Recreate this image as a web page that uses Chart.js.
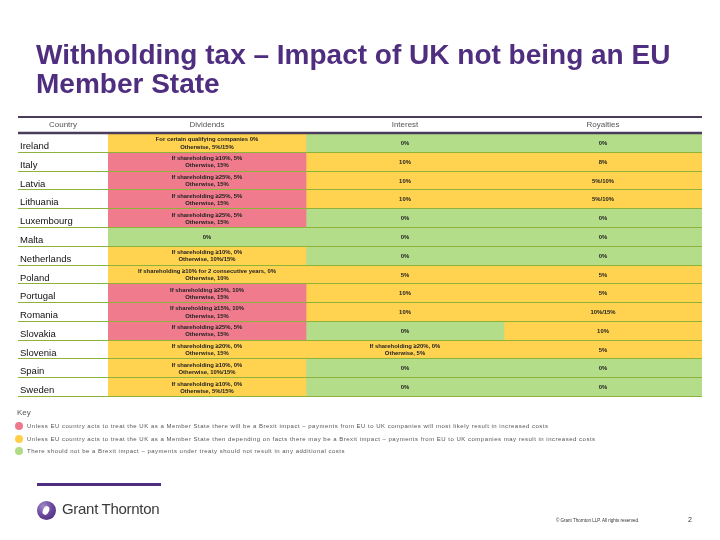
<!DOCTYPE html>
<html>
<head>
<meta charset="utf-8">
<script src="https://cdn.jsdelivr.net/npm/chart.js@4"></script>
<style>
    body { margin: 0; background: #fff; font-family: 'Liberation Sans', Arial, sans-serif; }
    #page { position: relative; width: 720px; height: 540px; overflow: hidden; }
    #chart { position: absolute; left: 0; top: 0; }
    .title { position: absolute; left: 36px; top: 40px; font-size: 28px; font-weight: bold; line-height: 29px; color: #4f2d7f; }
    .key-title { position: absolute; left: 17px; top: 408px; font-size: 8px; color: #555; }
    .key-row { position: absolute; left: 15px; height: 10px; display: flex; align-items: center; }
    .key-dot { width: 8px; height: 8px; border-radius: 50%; margin-right: 4px; }
    .key-text { font-size: 6px; color: #555; letter-spacing: 0.5px; white-space: nowrap; }
    .rule { position: absolute; left: 37px; top: 483px; width: 124px; height: 3px; background: #4f2d7f; }
    .logo-mark { position: absolute; left: 37px; top: 501px; width: 19px; height: 19px; border-radius: 50%;
        background: radial-gradient(circle at 35% 30%, #a58cc9 0%, #6c4a9e 45%, #3f2370 100%); }
    .logo-mark::after { content: ''; position: absolute; left: 6px; top: 5px; width: 6px; height: 9px; border-radius: 50%;
        background: #fff; transform: rotate(25deg); }
    .logo-text { position: absolute; left: 62px; top: 500px; font-size: 15px; color: #3a3a3a; letter-spacing: -0.3px; }
    .copy { position: absolute; left: 556px; top: 518px; font-size: 4.5px; color: #333; }
    .page-no { position: absolute; left: 688px; top: 516px; font-size: 7px; color: #333; }
</style>
</head>
<body>
<div id="page">
    <canvas id="chart" width="720" height="540"></canvas>
    <div class="title">Withholding tax – Impact of UK not being an EU<br>Member State</div>
    <div class="key-title">Key</div>
    <div class="key-row" style="top: 421px;"><div class="key-dot" style="background:#ec7a8c"></div><div class="key-text">Unless EU country acts to treat the UK as a Member State there will be a Brexit impact – payments from EU to UK companies will most likely result in increased costs</div></div>
    <div class="key-row" style="top: 434px;"><div class="key-dot" style="background:#ffcf4a"></div><div class="key-text">Unless EU country acts to treat the UK as a Member State then depending on facts there may be a Brexit impact – payments from EU to UK companies may result in increased costs</div></div>
    <div class="key-row" style="top: 446px;"><div class="key-dot" style="background:#afdb86"></div><div class="key-text">There should not be a Brexit impact – payments under treaty should not result in any additional costs</div></div>
    <div class="rule"></div>
    <div class="logo-mark"></div>
    <div class="logo-text">Grant Thornton</div>
    <div class="copy">© Grant Thornton LLP. All rights reserved.</div>
    <div class="page-no">2</div>
</div>
<script>
// Table data
const countries = ['Ireland', 'Italy', 'Latvia', 'Lithuania', 'Luxembourg', 'Malta', 'Netherlands',
    'Poland', 'Portugal', 'Romania', 'Slovakia', 'Slovenia', 'Spain', 'Sweden'];

const columns = ['Dividends', 'Interest', 'Royalties'];

const dividends = [
    'For certain qualifying companies 0%\nOtherwise, 5%/15%',
    'If shareholding ≥10%, 5%\nOtherwise, 15%',
    'If shareholding ≥25%, 5%\nOtherwise, 15%',
    'If shareholding ≥25%, 5%\nOtherwise, 15%',
    'If shareholding ≥25%, 5%\nOtherwise, 15%',
    '0%',
    'If shareholding ≥10%, 0%\nOtherwise, 10%/15%',
    'If shareholding ≥10% for 2 consecutive years, 0%\nOtherwise, 10%',
    'If shareholding ≥25%, 10%\nOtherwise, 15%',
    'If shareholding ≥15%, 10%\nOtherwise, 15%',
    'If shareholding ≥25%, 5%\nOtherwise, 15%',
    'If shareholding ≥20%, 0%\nOtherwise, 15%',
    'If shareholding ≥10%, 0%\nOtherwise, 10%/15%',
    'If shareholding ≥10%, 0%\nOtherwise, 5%/15%',
];

const interest = ['0%', '10%', '10%', '10%', '0%', '0%', '0%', '5%', '10%', '10%', '0%',
    'If shareholding ≥20%, 0%\nOtherwise, 5%', '0%', '0%'];

const royalties = ['0%', '8%', '5%/10%', '5%/10%', '0%', '0%', '0%', '5%', '5%', '10%/15%', '10%',
    '5%', '0%', '0%'];

// Brexit impact per cell: red = likely cost, amber = depends on facts, green = none
const dividendImpact = ['amber', 'red', 'red', 'red', 'red', 'green', 'amber',
    'amber', 'red', 'red', 'red', 'amber', 'amber', 'amber'];
const interestImpact = ['green', 'amber', 'amber', 'amber', 'green', 'green', 'green',
    'amber', 'amber', 'amber', 'green', 'amber', 'green', 'green'];
const royaltyImpact = ['green', 'amber', 'amber', 'amber', 'green', 'green', 'green',
    'amber', 'amber', 'amber', 'amber', 'amber', 'green', 'green'];

const impactColors = {
    red: '#ef7b8c',
    amber: '#ffd24f',
    green: '#b4dd89',
};

const cellTexts = [dividends, interest, royalties];
const cellImpacts = [dividendImpact, interestImpact, royaltyImpact];

// Draws header, row rules and the text inside each cell
const tablePlugin = {
    id: 'tableCells',
    afterDatasetsDraw(chart) {
        const { ctx, chartArea } = chart;
        const yScale = chart.scales.y;
        const xScale = chart.scales.x;
        const tableLeft = yScale.left - 2;
        const right = chartArea.right;

        ctx.save();

        // row separators
        ctx.strokeStyle = '#8db33a';
        ctx.lineWidth = 1;
        for (let i = 0; i < countries.length; i++) {
            const y = i === countries.length - 1
                ? chartArea.bottom
                : (yScale.getPixelForValue(i) + yScale.getPixelForValue(i + 1)) / 2;
            ctx.beginPath();
            ctx.moveTo(tableLeft, Math.round(y) - 0.5);
            ctx.lineTo(right, Math.round(y) - 0.5);
            ctx.stroke();
        }

        // header rules
        ctx.strokeStyle = '#4a3d5c';
        ctx.lineWidth = 2;
        ctx.beginPath();
        ctx.moveTo(tableLeft, chartArea.top - 17);
        ctx.lineTo(right, chartArea.top - 17);
        ctx.stroke();
        ctx.lineWidth = 2.5;
        ctx.beginPath();
        ctx.moveTo(tableLeft, chartArea.top - 1);
        ctx.lineTo(right, chartArea.top - 1);
        ctx.stroke();

        // header labels
        ctx.fillStyle = '#555';
        ctx.font = '8px "Liberation Sans", Arial, sans-serif';
        ctx.textAlign = 'center';
        ctx.textBaseline = 'middle';
        const headY = chartArea.top - 9;
        ctx.fillText('Country', (tableLeft + chartArea.left) / 2, headY);
        columns.forEach((name, i) => {
            ctx.fillText(name, xScale.getPixelForValue(i + 0.5), headY);
        });

        // cell texts
        ctx.fillStyle = '#222';
        ctx.font = 'bold 5.9px "Liberation Sans", Arial, sans-serif';
        chart.data.datasets.forEach((ds, di) => {
            const meta = chart.getDatasetMeta(di);
            meta.data.forEach((bar, i) => {
                const lines = cellTexts[di][i].split('\n');
                const cx = (bar.x + bar.base) / 2;
                const lh = 7.2;
                const y0 = bar.y - (lines.length - 1) * lh / 2;
                lines.forEach((line, li) => ctx.fillText(line, cx, y0 + li * lh));
            });
        });

        ctx.restore();
    },
};

new Chart(document.getElementById('chart'), {
    type: 'bar',
    data: {
        labels: countries,
        datasets: columns.map((name, c) => ({
            label: name,
            data: countries.map(() => [c, c + 1]),
            backgroundColor: cellImpacts[c].map((k) => impactColors[k]),
            borderWidth: 0,
            barPercentage: 1,
            categoryPercentage: 1,
            grouped: false,
        })),
    },
    options: {
        indexAxis: 'y',
        responsive: false,
        animation: false,
        events: [],
        layout: {
            padding: { left: 20, right: 18, top: 134, bottom: 143 },
        },
        plugins: {
            legend: { display: false },
            tooltip: { enabled: false },
        },
        scales: {
            x: {
                display: false,
                min: 0,
                max: 3,
            },
            y: {
                grid: { display: false },
                border: { display: false },
                afterFit: (scale) => { scale.width = 88; },
                ticks: {
                    crossAlign: 'far',
                    color: '#111',
                    labelOffset: 3,
                    padding: 0,
                    font: { family: '"Liberation Sans", Arial, sans-serif', size: 9.5 },
                },
            },
        },
    },
    plugins: [tablePlugin],
});
</script>
</body>
</html>
